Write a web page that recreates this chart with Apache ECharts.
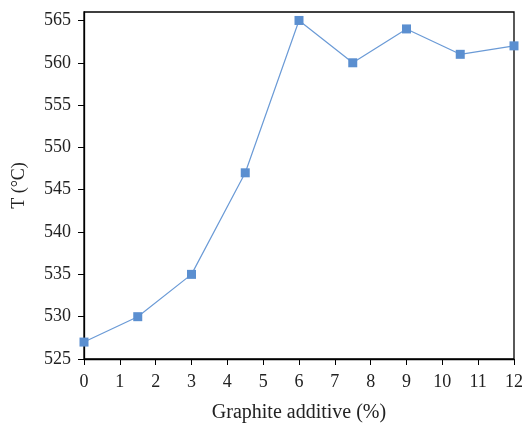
<!DOCTYPE html>
<html><head><meta charset="utf-8">
<script src="https://cdn.jsdelivr.net/npm/echarts@6/dist/echarts.min.js"></script>
<style>html,body{margin:0;padding:0;background:#fff}#c{width:525px;height:423px}</style>
</head><body><div id="c"></div>
<script>
const xValues = [0, 1.5, 3, 4.5, 6, 7.5, 9, 10.5, 12];
const tValues = [527, 530, 535, 547, 565, 560, 564, 561, 562];
const yTicks = [525, 530, 535, 540, 545, 550, 555, 560, 565];
const xTicks = [0,1,2,3,4,5,6,7,8,9,10,11,12];
const font = 'Liberation Serif';
const chart = echarts.init(document.getElementById('c'));
chart.setOption({
  animation: false,
  grid: {left: 84, right: 11, top: 12, bottom: 64, show: true, borderColor: '#000', borderWidth: 1.3,
         containLabel: false, outerBoundsMode: 'none'},
  xAxis: {
    type: 'value', min: 0, max: 12, interval: 1,
    name: 'Graphite additive (%)', nameLocation: 'middle', nameGap: 44,
    nameTextStyle: {fontFamily: font, fontSize: 20, color: '#222'},
    axisLine: {lineStyle: {color: '#000', width: 1.3}},
    axisTick: {show: true, length: 6, lineStyle: {color: '#000'}, customValues: xTicks},
    axisLabel: {fontFamily: font, fontSize: 18, color: '#222', margin: 14, customValues: xTicks},
    splitLine: {show: false}
  },
  yAxis: {
    type: 'value', min: 525, max: 566,
    name: 'T (°C)', nameLocation: 'middle', nameGap: 56, nameRotate: 90,
    nameTextStyle: {fontFamily: font, fontSize: 18, color: '#222'},
    axisLine: {show: true, lineStyle: {color: '#000', width: 1.3}},
    axisTick: {show: true, length: 6, lineStyle: {color: '#000'}, customValues: yTicks},
    axisLabel: {fontFamily: font, fontSize: 18, color: '#222', margin: 13, customValues: yTicks},
    splitLine: {show: false}
  },
  series: [{
    type: 'line',
    data: xValues.map((x, i) => [x, tValues[i]]),
    symbol: 'rect', symbolSize: 9,
    itemStyle: {color: '#5b8fd0'},
    lineStyle: {color: '#6a9ad6', width: 1.2},
    clip: false
  }]
});
</script></body></html>
